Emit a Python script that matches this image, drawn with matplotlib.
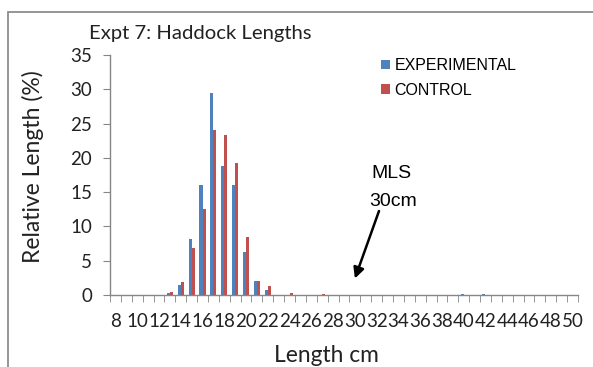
import matplotlib
matplotlib.use('Agg')
import matplotlib.pyplot as plt
from matplotlib.patches import Rectangle
import numpy as np

# length classes (cm) and relative length (%) per class
lengths = list(range(8, 51))
experimental = [0, 0, 0, 0, 0, 0.25, 1.5, 8.2, 16.1, 29.4, 18.8, 16.1, 6.2, 2.0, 0.8, 0,
                0, 0, 0, 0, 0, 0, 0, 0, 0, 0, 0, 0, 0, 0, 0, 0, 0.2, 0, 0.2, 0,
                0, 0, 0, 0, 0, 0, 0]
control = [0, 0, 0, 0, 0, 0.5, 1.9, 6.8, 12.5, 24.1, 23.4, 19.2, 8.4, 2.0, 1.3, 0,
           0.3, 0, 0, 0.2, 0, 0, 0, 0, 0, 0, 0, 0, 0, 0, 0, 0, 0, 0, 0, 0,
           0, 0, 0, 0, 0, 0, 0]
tick_labels = [str(v) for v in range(8, 51, 2)]

blue = '#4F81BD'
red = '#C0504D'
axis_col = '#868686'
calibri_like = 'Lato'
arial_like = 'Liberation Sans'

fig = plt.figure(figsize=(5.93, 3.67), dpi=100)
ax = fig.add_axes([110/593, 1-295/367, 468/593, 240/367])

x = np.array(lengths)
w = 0.28
b1 = ax.bar(x - w/2, experimental, width=w, color=blue, label='EXPERIMENTAL')
b2 = ax.bar(x + w/2, control, width=w, color=red, label='CONTROL')

ax.set_xlim(7.5, 50.5)
ax.set_ylim(0, 35)
ax.set_yticks(range(0, 36, 5))
ax.set_xticks(range(8, 51, 2))
ax.set_xticklabels(tick_labels)
ax.set_xticks(np.arange(7.5, 51, 1), minor=True)
ax.tick_params(axis='x', which='major', length=0, pad=13)
ax.tick_params(axis='x', which='minor', length=5, color=axis_col, direction='out')
ax.tick_params(axis='y', length=5, color=axis_col, direction='out', pad=8)
for lab in ax.get_xticklabels() + ax.get_yticklabels():
    lab.set_fontfamily(calibri_like)
    lab.set_fontsize(13.5)
    lab.set_color('#222222')

for s in ['top', 'right']:
    ax.spines[s].set_visible(False)
for s in ['left', 'bottom']:
    ax.spines[s].set_color(axis_col)
    ax.spines[s].set_linewidth(1.0)

fig.text(33/593, 1-167/367, 'Relative Length (%)', rotation=90, ha='center', va='center',
         fontsize=16.5, family=calibri_like, color='#222222')
fig.text(326/593, 1-355/367, 'Length cm', ha='center', va='center',
         fontsize=16.4, family=calibri_like, color='#222222')
fig.text(89/593, 1-39/367, 'Expt 7: Haddock Lengths', ha='left', va='baseline',
         fontsize=14.6, family=calibri_like, color='#222222')

ax.legend(handles=[b1, b2], loc='upper left', bbox_to_anchor=(373/593, 1-50/367),
          bbox_transform=fig.transFigure, frameon=False, handlelength=0.55, handleheight=0.55,
          handletextpad=0.3, labelspacing=0.6, borderpad=0,
          prop={'family': arial_like, 'size': 11.5})

# minimum landing size marker
fig.text(371/593, 1-178/367, 'MLS', ha='left', va='baseline', fontsize=14, family=arial_like)
fig.text(369/593, 1-206/367, '30cm', ha='left', va='baseline', fontsize=14, family=arial_like)
ax.annotate('', xy=(30, 2.4), xycoords='data',
            xytext=(379/593, 1-211/367), textcoords='figure fraction',
            arrowprops=dict(arrowstyle='-|>', color='black', lw=1.8, mutation_scale=16,
                            shrinkA=0, shrinkB=0))

# outer chart border (cropped at right and bottom)
fig.add_artist(Rectangle((8/593, -0.1), 1.2, 1.1 - 12/367, transform=fig.transFigure,
                         fill=False, edgecolor='#8c8c8c', linewidth=1.3))

fig.savefig('out.png', dpi=100)
